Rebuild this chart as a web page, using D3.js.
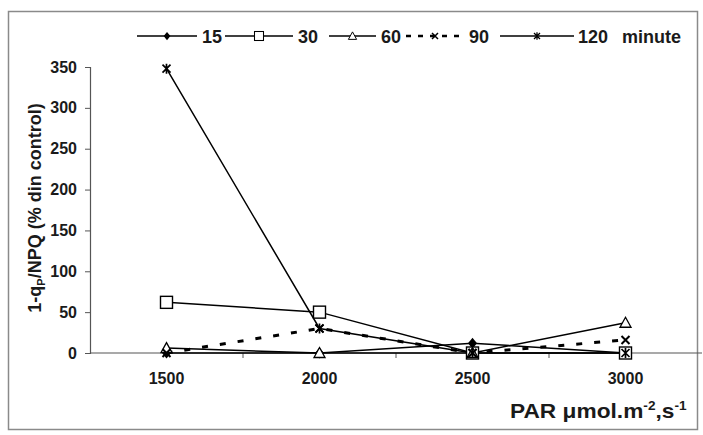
<!DOCTYPE html>
<html>
<head>
<meta charset="utf-8">
<script src="https://cdn.jsdelivr.net/npm/d3@7"></script>
<style>
  html, body { margin: 0; padding: 0; background: #fff; }
  svg { display: block; font-family: "Liberation Sans", Arial, sans-serif; }
</style>
</head>
<body>
<svg id="chart" width="703" height="435"></svg>
<script>
// Light intensity categories (PAR)
const categories = ["1500", "2000", "2500", "3000"];
// Exposure times (minutes) and their values, % of control
const seriesNames = ["15", "30", "60", "90", "120"];
const values15  = [0, 0, 12, 0];
const values30  = [62, 50, 0, 0];
const values60  = [6, 0, 0, 37];
const values90  = [0, 30, 0, 16];
const values120 = [348, 30, 0, 0];
const yTicks = [0, 50, 100, 150, 200, 250, 300, 350];

const svg = d3.select("#chart");
const ink = "#1a1a1a";

// outer frame
svg.append("rect")
  .attr("x", 8.5).attr("y", 11.5).attr("width", 689).attr("height", 418)
  .attr("fill", "#fff").attr("stroke", "#8a8a8a").attr("stroke-width", 1.5);

const x = d3.scaleBand().domain(categories).range([90, 702]);
const y = d3.scaleLinear().domain([0, 350]).range([353, 67]);
const cx = c => x(c) + x.bandwidth() / 2;

// Y axis
const yAxis = svg.append("g").attr("transform", "translate(90,0)")
  .call(d3.axisLeft(y).tickValues(yTicks).tickSize(5).tickPadding(8));
yAxis.select(".domain").attr("stroke", "#555").attr("stroke-width", 1.2);
yAxis.selectAll(".tick line").attr("stroke", "#555");
yAxis.selectAll("text").attr("font-size", 16).attr("font-weight", "bold").attr("fill", ink);

// X axis: line at y = 0 with ticks between categories
const xAxisG = svg.append("g");
xAxisG.append("line")
  .attr("x1", 90).attr("x2", 702).attr("y1", y(0)).attr("y2", y(0))
  .attr("stroke", "#555").attr("stroke-width", 1.2);
xAxisG.selectAll("line.tk").data(categories.slice(1))
  .join("line").attr("class", "tk")
  .attr("x1", d => x(d)).attr("x2", d => x(d))
  .attr("y1", y(0)).attr("y2", y(0) + 5)
  .attr("stroke", "#555");
xAxisG.selectAll("text").data(categories).join("text")
  .attr("x", d => cx(d)).attr("y", y(0) + 31)
  .attr("text-anchor", "middle")
  .attr("font-size", 16).attr("font-weight", "bold").attr("fill", ink)
  .text(d => d);

// Axis titles
const yt = svg.append("text")
  .attr("transform", "translate(41,208) rotate(-90)")
  .attr("text-anchor", "middle")
  .attr("font-size", 18).attr("font-weight", "bold").attr("fill", ink);
yt.append("tspan").text("1-q");
yt.append("tspan").attr("font-size", 11).attr("dy", 4).text("P");
yt.append("tspan").attr("dy", -4).text("/NPQ (% din control)");

const xt = svg.append("text")
  .attr("x", 0).attr("y", 0)
  .attr("font-size", 20).attr("font-weight", "bold").attr("fill", ink);
xt.append("tspan").text("PAR \u03bcmol.m");
xt.append("tspan").attr("font-size", 12).attr("dy", -8).text("-2");
xt.append("tspan").attr("dy", 8).text(",s");
xt.append("tspan").attr("font-size", 12).attr("dy", -8).text("-1");
// stretch the title to span 510..687
const xtw = xt.node().getBBox().width;
xt.attr("transform", `translate(510,418) scale(${177 / xtw},1)`);

// Marker drawing
function marker(g, type, px, py, k = 1) {
  const s = g.append("g").attr("transform", `translate(${px},${py}) scale(${k})`);
  if (type === "diamond") {
    s.append("path").attr("d", "M0,-5.5L4.5,0L0,5.5L-4.5,0Z").attr("fill", "#000");
  } else if (type === "square") {
    s.append("rect").attr("x", -6).attr("y", -6).attr("width", 12).attr("height", 12)
      .attr("fill", "#fff").attr("stroke", "#000").attr("stroke-width", 1.4);
  } else if (type === "triangle") {
    s.append("path").attr("d", "M0,-5.5L5.5,4.5L-5.5,4.5Z")
      .attr("fill", "#fff").attr("stroke", "#000").attr("stroke-width", 1.3);
  } else if (type === "x") {
    s.append("path").attr("d", "M-4,-4L4,4M4,-4L-4,4")
      .attr("stroke", "#000").attr("stroke-width", 2);
  } else if (type === "star") {
    s.append("path").attr("d", "M-4,-4L4,4M4,-4L-4,4M0,-5L0,5")
      .attr("stroke", "#000").attr("stroke-width", 1.7);
  }
}

const series = [
  { name: seriesNames[0], values: values15,  marker: "diamond",  dash: null },
  { name: seriesNames[1], values: values30,  marker: "square",   dash: null },
  { name: seriesNames[2], values: values60,  marker: "triangle", dash: null },
  { name: seriesNames[3], values: values90,  marker: "x",        dash: "6,12" },
  { name: seriesNames[4], values: values120, marker: "star",     dash: null }
];

const line = d3.line().x((d, i) => cx(categories[i])).y(d => y(d));
const plot = svg.append("g");
series.forEach(s => {
  plot.append("path").datum(s.values)
    .attr("d", line).attr("fill", "none").attr("stroke", "#000")
    .attr("stroke-width", s.dash ? 3 : 1.5)
    .attr("stroke-dasharray", s.dash);
});
series.forEach(s => {
  s.values.forEach((v, i) => marker(plot, s.marker, cx(categories[i]), y(v)));
});

// Legend: [line start, line end, label x] for each entry
const legendPos = [[137, 197, 202], [225, 293, 298], [329, 376, 381], [406, 464, 469], [500, 574, 578]];
const legend = svg.append("g");
series.forEach((s, i) => {
  const [x0, x1, tx] = legendPos[i], ly = 36;
  legend.append("line").attr("x1", x0).attr("x2", x1).attr("y1", ly).attr("y2", ly)
    .attr("stroke", "#000")
    .attr("stroke-width", s.dash ? 2.6 : 1.4)
    .attr("stroke-dasharray", s.dash ? "5,7" : null);
  marker(legend, s.marker, (x0 + x1) / 2, ly, 0.75);
  legend.append("text").attr("x", tx).attr("y", ly + 6.5)
    .attr("font-size", 18).attr("font-weight", "bold").attr("fill", ink)
    .text(s.name);
});
legend.append("text").attr("x", 622).attr("y", 42.5)
  .attr("font-size", 18).attr("font-weight", "bold").attr("fill", ink)
  .text("minute");
</script>
</body>
</html>
